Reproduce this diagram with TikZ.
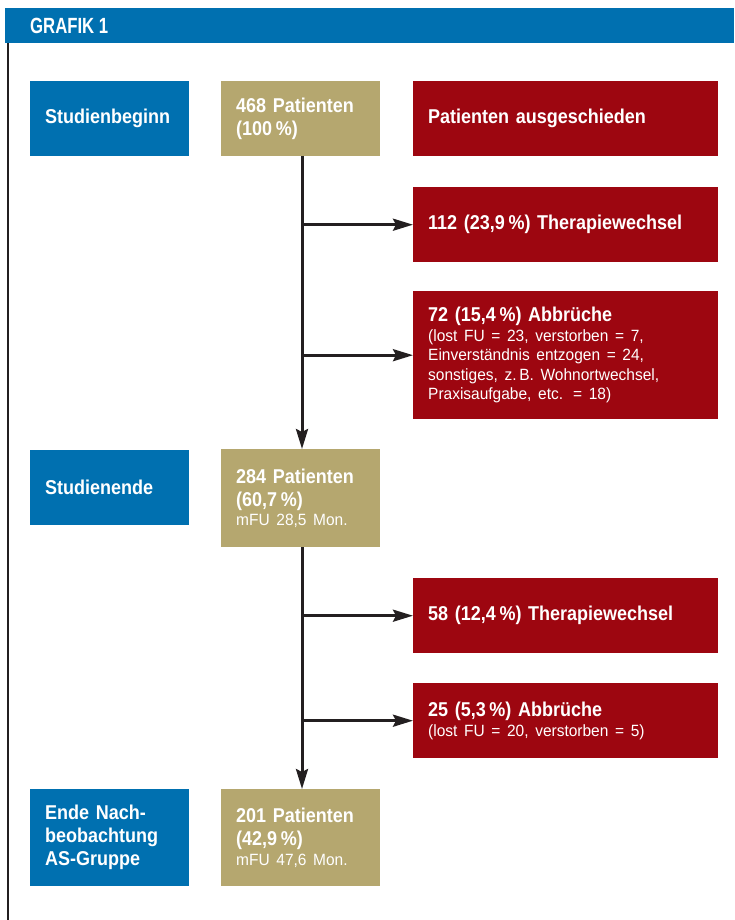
\documentclass[tikz,border=0pt]{standalone}
\usepackage{fontspec}
\usetikzlibrary{arrows.meta}
\setmainfont{Liberation Sans}
\newfontfamily\TitleFam[FakeStretch=0.9,WordSpace=0.8]{Liberation Sans}
\newfontfamily\SmallFam[FakeStretch=0.95,WordSpace=0.8]{Liberation Sans}
\newfontfamily\HeadFam[FakeStretch=0.76]{Liberation Sans}
\newcommand\TitleF{\TitleFam\bfseries\fontsize{20}{23}\selectfont}
\newcommand\SmallF{\SmallFam\mdseries\fontsize{16.3}{19.5}\selectfont}
\newcommand\HeadF{\HeadFam\bfseries\fontsize{22}{24}\selectfont}
\newcommand\pct{\hspace{0.18em}\%}
\setlength{\parindent}{0pt}
\definecolor{cblue}{HTML}{0070B0}
\definecolor{ctan}{HTML}{B5A76F}
\definecolor{cred}{HTML}{9D0610}
\definecolor{cline}{HTML}{231F20}
\tikzset{
  box/.style={rectangle, anchor=north west, inner xsep=15pt, inner ysep=0pt,
    text=white, align=left, font=\TitleF},
  bluebox/.style={box, fill=cblue, minimum width=159pt, text width=129pt},
  tanbox/.style={box, fill=ctan, minimum width=159pt, text width=129pt},
  redbox/.style={box, fill=cred, minimum width=305pt, text width=275pt},
  arr/.style={cline, line width=3pt, -{Stealth[length=20pt,width=12pt,inset=3pt]}},
}
\begin{document}
\begin{tikzpicture}[x=1pt,y=-1pt]
\useasboundingbox (0,0) rectangle (734,920);
% header
\node[rectangle, fill=cblue, anchor=north west, minimum width=729pt, minimum height=35pt, inner sep=0pt] (bar) at (5,8) {};
\node[anchor=west, text=white, font=\HeadF, inner sep=0pt] (head) at (30,26) {GRAFIK 1};
\draw[cline, line width=2pt] (8,43) -- (8,920);
% left column
\node[bluebox, minimum height=75pt] (sb) at (30,81) {Studienbeginn};
\node[bluebox, minimum height=75pt] (se) at (30,450) {Studienende};
\node[bluebox, minimum height=97pt] (en) at (30,789) {Ende Nach-\\beobachtung\\AS-Gruppe};
% middle column
\node[tanbox, minimum height=75pt] (t468) at (221,81) {468 Patienten\\(100\pct)};
\node[tanbox, minimum height=98pt] (t284) at (221,449) {284 Patienten\\(60,7\pct)\par{\SmallF mFU 28,5 Mon.\par}};
\node[tanbox, minimum height=97pt] (t201) at (221,789) {201 Patienten\\(42,9\pct)\par{\SmallF mFU 47,6 Mon.\par}};
% right column
\node[redbox, minimum height=75pt] (aus) at (413,81) {Patienten ausgeschieden};
\node[redbox, minimum height=75pt] (r112) at (413,187) {112 (23,9\pct) Therapiewechsel};
\node[redbox, minimum height=128pt] (r72) at (413,291) {72 (15,4\pct) Abbrüche\par{\SmallF (lost FU = 23, verstorben = 7,\\Einverständnis entzogen = 24,\\sonstiges, z.\,B. Wohnortwechsel,\\Praxisaufgabe, etc. = 18)\par}};
\node[redbox, minimum height=75pt] (r58) at (413,578) {58 (12,4\pct) Therapiewechsel};
\node[redbox, minimum height=75pt] (r25) at (413,683) {25 (5,3\pct) Abbrüche\par{\SmallF (lost FU = 20, verstorben = 5)\par}};
% connectors
\coordinate (v1) at (302,156);
\coordinate (v2) at (302,547);
\draw[arr] (v1) -- (v1 |- t284.north);
\draw[arr] (v2) -- (v2 |- t201.north);
\draw[arr] (v1 |- r112.west) -- (r112.west);
\draw[arr] (v1 |- r72.west) -- (r72.west);
\draw[arr] (v2 |- r58.west) -- (r58.west);
\draw[arr] (v2 |- r25.west) -- (r25.west);
\end{tikzpicture}
\end{document}
